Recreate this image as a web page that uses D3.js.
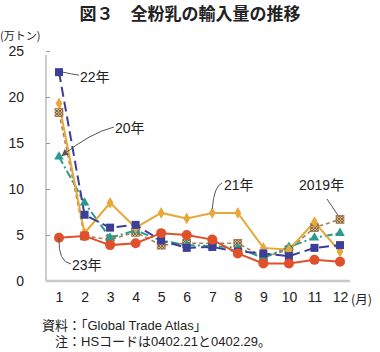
<!DOCTYPE html>
<html>
<head>
<meta charset="utf-8">
<style>
  body { margin: 0; background: #fff; }
  svg text { font-family: "Liberation Sans", "Noto Sans CJK JP", sans-serif; fill: #222; }
</style>
</head>
<body>
<div id="chart"></div>
<script src="https://cdn.jsdelivr.net/npm/d3@7"></script>
<script>
const months = [1, 2, 3, 4, 5, 6, 7, 8, 9, 10, 11, 12];
const yTicks = [0, 5, 10, 15, 20, 25];

const y2019 = [18.3, 4.9, 4.5, 5.3, 3.9, 4.1, 4.1, 4.1, 2.6, 3.4, 5.8, 6.7];
const y2020 = [13.5, 8.5, 4.7, 5.5, 4.4, 3.9, 3.8, 3.6, 2.5, 3.7, 4.7, 5.2];
const y2021 = [19.3, 5.2, 8.5, 5.8, 7.4, 6.8, 7.4, 7.4, 3.6, 3.4, 6.4, 3.2];
const y2022 = [22.7, 7.2, 5.8, 6.1, 4.4, 3.6, 3.7, 3.2, 3.0, 2.7, 3.6, 3.9];
const y2023 = [4.7, 4.9, 3.9, 4.1, 5.2, 5.0, 4.5, 3.0, 1.9, 1.9, 2.3, 2.1];

const series = [
  { name: "2019年", values: y2019, color: "#a88052", dash: "4,3", marker: "pattern", width: 1.6 },
  { name: "20年", values: y2020, color: "#2b9a8f", dash: "8,3,2,3", marker: "triangle", width: 2 },
  { name: "21年", values: y2021, color: "#e8a838", dash: null, marker: "diamond", width: 2 },
  { name: "22年", values: y2022, color: "#3b3f98", dash: "10,5", marker: "square", width: 2 },
  { name: "23年", values: y2023, color: "#e0502a", dash: null, marker: "circle", width: 2 }
];

const W = 380, H = 352;
const svg = d3.select("#chart").append("svg").attr("width", W).attr("height", H);

const x = d3.scalePoint().domain(months).range([59, 340]);
const y = d3.scaleLinear().domain([0, 25]).range([281, 51]);

// title
svg.append("text").attr("x", 190).attr("y", 20).attr("text-anchor", "middle")
  .style("font-family", "\"Noto Sans CJK JP\", sans-serif")
  .style("font-size", "17px").style("font-weight", "bold")
  .text("図３　全粉乳の輸入量の推移");

svg.append("text").attr("x", 0).attr("y", 40).style("font-size", "11px")
  .style("font-family", "\"Noto Sans CJK JP\", sans-serif").text("(万トン)");

// axes
const yAxis = svg.append("g").attr("transform", "translate(46,0)")
  .call(d3.axisRight(y).tickValues(yTicks).tickSize(4).tickFormat(""));
yAxis.select(".domain").attr("stroke", "#999").attr("d", "M0,55V281");
yAxis.selectAll(".tick line").attr("stroke", "#999");
yAxis.selectAll(".tick").filter(d => d === 0).remove();

svg.selectAll(".ylab").data(yTicks).join("text")
  .attr("x", 24).attr("y", d => y(d) + 5).attr("text-anchor", "end")
  .style("font-size", "14px").text(d => d);

svg.append("line").attr("x1", 46).attr("x2", 350).attr("y1", 281).attr("y2", 281)
  .attr("stroke", "#c8c8c8").attr("stroke-width", 2.5);

const xAxis = svg.append("g").attr("transform", "translate(0,292)")
  .call(d3.axisBottom(x).tickSize(0).tickPadding(0));
xAxis.select(".domain").remove();
xAxis.selectAll("text").style("font-size", "14px")
  .style("font-family", "\"Liberation Sans\", sans-serif").attr("fill", "#222");
svg.append("text").attr("x", 351).attr("y", 304).style("font-size", "12.5px")
  .style("font-family", "\"Noto Sans CJK JP\", sans-serif").text("(月)");

// pattern for 2019 markers
const defs = svg.append("defs");
const pat = defs.append("pattern").attr("id", "hatch").attr("patternUnits", "userSpaceOnUse")
  .attr("width", 3).attr("height", 3);
pat.append("rect").attr("width", 3).attr("height", 3).attr("fill", "#d7b48a");
pat.append("path").attr("d", "M0,0L3,3M3,0L0,3").attr("stroke", "#7a5630").attr("stroke-width", 0.8);

const line = d3.line().x((d, i) => x(months[i])).y(d => y(d));
const plot = svg.append("g");

series.forEach(s => {
  plot.append("path").datum(s.values).attr("d", line)
    .attr("fill", "none").attr("stroke", s.color).attr("stroke-width", s.width)
    .attr("stroke-dasharray", s.dash);
});

series.forEach(s => {
  const g = plot.append("g");
  s.values.forEach((v, i) => {
    const cx = x(months[i]), cy = y(v);
    if (s.marker === "circle") {
      g.append("circle").attr("cx", cx).attr("cy", cy).attr("r", 5).attr("fill", s.color);
    } else if (s.marker === "square") {
      g.append("rect").attr("x", cx - 4).attr("y", cy - 4).attr("width", 8).attr("height", 8).attr("fill", s.color);
    } else if (s.marker === "diamond") {
      g.append("path").attr("d", d3.symbol(d3.symbolDiamond, 40)()).attr("transform", `translate(${cx},${cy})`).attr("fill", s.color);
    } else if (s.marker === "triangle") {
      g.append("path").attr("d", d3.symbol(d3.symbolTriangle, 40)()).attr("transform", `translate(${cx},${cy})`).attr("fill", s.color);
    } else {
      g.append("rect").attr("x", cx - 4).attr("y", cy - 4).attr("width", 8).attr("height", 8)
        .attr("fill", "url(#hatch)").attr("stroke", "#8a6438").attr("stroke-width", 0.6);
    }
  });
});

// annotations
defs.append("marker").attr("id", "arr").attr("viewBox", "0 0 10 10").attr("refX", 9).attr("refY", 5)
  .attr("markerWidth", 7).attr("markerHeight", 7).attr("orient", "auto")
  .append("path").attr("d", "M0,0L10,5L0,10z").attr("fill", "#555");

const leader = (d, arrow) => svg.append("path").attr("d", d).attr("fill", "none")
  .attr("stroke", "#555").attr("stroke-width", 1).attr("marker-end", arrow ? "url(#arr)" : null);

const lab = (t, lx, ly) => svg.append("text").attr("x", lx).attr("y", ly)
  .style("font-size", "14px").text(t);

leader(`M${x(1) + 4},${y(22.7)}Q72,${y(22.7) + 2} 79,${y(22.7) + 3}`);
lab("22年", 80, 82);

leader(`M114,127Q90,133 ${x(1) + 3},${y(13.5) - 1}`, true);
lab("20年", 115, 133);

leader(`M222,183Q214,186 ${x(7)},${y(7.4) - 4}`);
lab("21年", 224, 190);

leader(`M327,199L${x(12) - 2},${y(6.7) - 4}`);
lab("2019年", 299, 190);

leader(`M${x(1)},${y(4.7)}Q58,262 71,264`);
lab("23年", 72, 270);

// notes
svg.append("text").attr("x", 42).attr("y", 330).style("font-size", "13px").text("資料：「Global Trade Atlas」");
svg.append("text").attr("x", 55).attr("y", 346).style("font-size", "13px").text("注：HSコードは0402.21と0402.29。");
</script>
</body>
</html>
